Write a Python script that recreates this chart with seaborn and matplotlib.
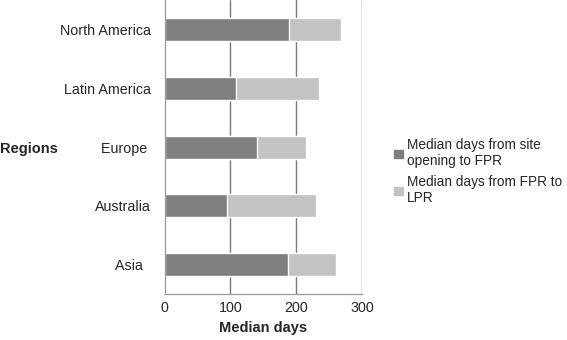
import pandas as pd
import numpy as np
import matplotlib
matplotlib.use('Agg')
import matplotlib.pyplot as plt
import matplotlib.patches as mpatches
import seaborn as sns

regions = ['North America', 'Latin America', 'Europe ', 'Australia', 'Asia  ']
site_to_fpr = [189, 108, 141, 95, 187]
fpr_to_lpr = [79, 126, 74, 135, 74]

dark = '#7f7f7f'
light = '#c3c3c3'

df = pd.DataFrame({'region': regions, 'a': site_to_fpr, 'b': fpr_to_lpr})
df['total'] = df['a'] + df['b']

sns.set_style('white')
plt.rcParams['font.family'] = ['Liberation Sans', 'DejaVu Sans']

fig = plt.figure(figsize=(5.67, 3.4), dpi=100)
ax = fig.add_axes([0.2905, 0.135, 0.348, 0.865])

sns.barplot(data=df, y='region', x='total', orient='h', color=light, width=0.39,
            saturation=1, ax=ax)
sns.barplot(data=df, y='region', x='a', orient='h', color=dark, width=0.39,
            saturation=1, ax=ax)

ax.set_xlim(0, 300)
ax.set_ylim(4.5, -0.5)
ax.set_xticks([0, 100, 200, 300])
ax.tick_params(axis='x', length=0, labelsize=10.3, pad=5)
ax.tick_params(axis='y', which='major', length=0, labelsize=10.3, pad=10)
ax.set_yticks(np.arange(-0.5, 5, 1), minor=True)
ax.tick_params(axis='y', which='minor', length=4, direction='out', color='#999999', width=0.8)
for v in [100, 200, 300]:
    ax.axvline(v, color='#7a7a7a', lw=1.0, zorder=0)
ax.set_axisbelow(True)
for s in ['top', 'right']:
    ax.spines[s].set_visible(False)
for s in ['left', 'bottom']:
    ax.spines[s].set_color('#999999')
    ax.spines[s].set_linewidth(0.9)

ax.set_xlabel('Median days', fontsize=10.5, fontweight='bold', labelpad=4)
ax.set_ylabel('')
fig.text(0.0, 0.562, 'Regions', fontsize=10.5, fontweight='bold', va='center', ha='left')

handles = [mpatches.Patch(color=dark), mpatches.Patch(color=light)]
labels = ['Median days from site\nopening to FPR', 'Median days from FPR to\nLPR']
fig.legend(handles, labels, loc='center left', bbox_to_anchor=(0.674, 0.495), frameon=False,
           fontsize=9.8, handlelength=0.6, handleheight=0.6, handletextpad=0.3,
           labelspacing=0.5)

plt.savefig('out.png', dpi=100)
